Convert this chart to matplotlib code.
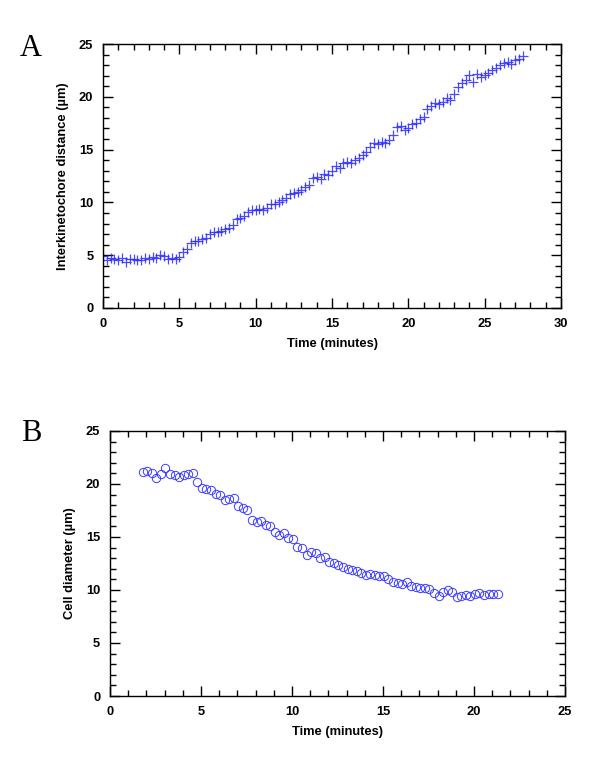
import numpy as np
import matplotlib
matplotlib.use('Agg')
import matplotlib.pyplot as plt
from matplotlib.ticker import MultipleLocator

plt.rcParams['font.family'] = ['Liberation Sans', 'DejaVu Sans']

# 图A: 动粒间距随时间变化
time_a = [0.00, 0.25, 0.50, 0.75, 1.00, 1.25, 1.50, 1.75, 2.00, 2.25,
          2.50, 2.75, 3.00, 3.25, 3.50, 3.75, 4.00, 4.25, 4.50, 4.75,
          5.00, 5.25, 5.50, 5.75, 6.00, 6.25, 6.50, 6.75, 7.00, 7.25,
          7.50, 7.75, 8.00, 8.25, 8.50, 8.75, 9.00, 9.25, 9.50, 9.75,
          10.00, 10.25, 10.50, 10.75, 11.00, 11.25, 11.50, 11.75, 12.00, 12.25,
          12.50, 12.75, 13.00, 13.25, 13.50, 13.75, 14.00, 14.25, 14.50, 14.75,
          15.00, 15.25, 15.50, 15.75, 16.00, 16.25, 16.50, 16.75, 17.00, 17.25,
          17.50, 17.75, 18.00, 18.25, 18.50, 18.75, 19.00, 19.25, 19.50, 19.75,
          20.00, 20.25, 20.50, 20.75, 21.00, 21.25, 21.50, 21.75, 22.00, 22.25,
          22.50, 22.75, 23.00, 23.25, 23.50, 23.75, 24.00, 24.25, 24.50, 24.75,
          25.00, 25.25, 25.50, 25.75, 26.00, 26.25, 26.50, 26.75, 27.00, 27.25,
          27.50]
dist_a = [4.9, 4.5, 4.7, 4.6, 4.5, 4.7, 4.4, 4.6, 4.6, 4.5,
          4.5, 4.7, 4.6, 4.8, 4.7, 5.0, 4.9, 4.6, 4.7, 4.6,
          4.8, 5.3, 5.6, 6.2, 6.3, 6.3, 6.5, 6.6, 7.0, 7.2,
          7.2, 7.3, 7.5, 7.6, 7.9, 8.4, 8.5, 8.7, 9.1, 9.3,
          9.3, 9.4, 9.3, 9.5, 9.8, 9.8, 10.0, 10.2, 10.4, 10.8,
          10.9, 11.0, 11.2, 11.5, 11.6, 12.3, 12.4, 12.2, 12.7, 12.6,
          13.0, 13.4, 13.3, 13.7, 13.8, 13.7, 14.0, 14.2, 14.5, 14.8,
          15.2, 15.6, 15.5, 15.7, 15.6, 15.9, 16.4, 17.1, 17.2, 16.9,
          17.0, 17.4, 17.5, 17.9, 18.1, 18.8, 19.1, 19.4, 19.3, 19.5,
          19.9, 19.7, 20.3, 20.9, 21.3, 21.6, 22.1, 21.4, 22.2, 21.9,
          22.1, 22.3, 22.5, 22.7, 23.0, 23.2, 23.3, 23.1, 23.5, 23.6,
          23.9]

# 图B: 细胞直径随时间变化
time_b = [1.80, 2.05, 2.30, 2.55, 2.80, 3.05, 3.30, 3.55, 3.80, 4.05,
          4.30, 4.55, 4.80, 5.05, 5.30, 5.55, 5.80, 6.05, 6.30, 6.55,
          6.80, 7.05, 7.30, 7.55, 7.80, 8.05, 8.30, 8.55, 8.80, 9.05,
          9.30, 9.55, 9.80, 10.05, 10.30, 10.55, 10.80, 11.05, 11.30, 11.55,
          11.80, 12.05, 12.30, 12.55, 12.80, 13.05, 13.30, 13.55, 13.80, 14.05,
          14.30, 14.55, 14.80, 15.05, 15.30, 15.55, 15.80, 16.05, 16.30, 16.55,
          16.80, 17.05, 17.30, 17.55, 17.80, 18.05, 18.30, 18.55, 18.80, 19.05,
          19.30, 19.55, 19.80, 20.05, 20.30, 20.55, 20.80, 21.05, 21.30]
diam_b = [21.1, 21.2, 21.0, 20.6, 20.9, 21.5, 20.9, 20.8, 20.7, 20.8,
          20.9, 21.0, 20.2, 19.6, 19.5, 19.4, 19.1, 19.0, 18.5, 18.6,
          18.7, 17.9, 17.7, 17.5, 16.6, 16.4, 16.5, 16.1, 16.0, 15.5,
          15.2, 15.4, 14.9, 14.8, 14.1, 14.0, 13.3, 13.6, 13.5, 13.0,
          13.1, 12.6, 12.5, 12.4, 12.2, 12.0, 11.9, 11.8, 11.6, 11.4,
          11.5, 11.4, 11.3, 11.3, 11.0, 10.8, 10.7, 10.6, 10.8, 10.4,
          10.3, 10.2, 10.2, 10.1, 9.7, 9.4, 9.8, 10.0, 9.8, 9.3,
          9.4, 9.5, 9.4, 9.6, 9.7, 9.5, 9.6, 9.6, 9.6]

FS = 9.3  # 坐标轴文字大小


def style_axes(ax, xmax):
    ax.set_xlim(0, xmax)
    ax.set_ylim(0, 25)
    ax.xaxis.set_major_locator(MultipleLocator(5))
    ax.xaxis.set_minor_locator(MultipleLocator(1))
    ax.yaxis.set_major_locator(MultipleLocator(5))
    ax.yaxis.set_minor_locator(MultipleLocator(1))
    ax.tick_params(which='both', direction='in', top=True, right=True,
                   width=1.0, labelsize=FS, pad=7)
    ax.tick_params(which='major', length=7)
    ax.tick_params(which='minor', length=4)
    for lab in ax.get_xticklabels() + ax.get_yticklabels():
        lab.set_fontweight('bold')
    for sp in ax.spines.values():
        sp.set_linewidth(1.0)


fig = plt.figure(figsize=(6, 7.64), dpi=100)

ax1 = fig.add_axes([0.1717, 0.5969, 0.7633, 0.3455])
ax1.plot(time_a, dist_a, '+', color='#2a2aff', markersize=7, markeredgewidth=0.9, alpha=0.85)
style_axes(ax1, 30)
ax1.set_xlabel('Time (minutes)', fontsize=FS, fontweight='bold', labelpad=6)
ax1.set_ylabel('Interkinetochore distance (\u00b5m)', fontsize=FS, fontweight='bold', labelpad=7)
fig.text(0.052, 0.937, 'A', fontsize=22, family=['Liberation Serif', 'DejaVu Serif'],
         ha='center', va='center')

ax2 = fig.add_axes([0.1833, 0.0890, 0.7584, 0.3469])
ax2.plot(time_b, diam_b, 'o', markerfacecolor='none', markeredgecolor='#3b3bff',
         markersize=6, markeredgewidth=0.7)
style_axes(ax2, 25)
ax2.set_xlabel('Time (minutes)', fontsize=FS, fontweight='bold', labelpad=6)
ax2.set_ylabel('Cell diameter (\u00b5m)', fontsize=FS, fontweight='bold', labelpad=7)
fig.text(0.052, 0.432, 'B', fontsize=22, family=['Liberation Serif', 'DejaVu Serif'],
         ha='center', va='center')

plt.savefig('out.png', dpi=100)
